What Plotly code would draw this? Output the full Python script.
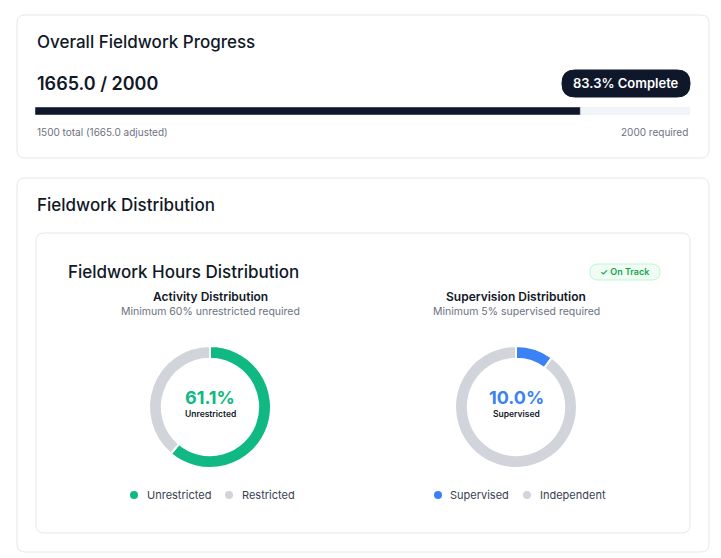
import plotly.graph_objects as go

W, H = 721, 558
completed = 1665.0
required = 2000
total_raw = 1500
activity_labels = ["Unrestricted", "Restricted"]
activity_values = [61.1, 38.9]
supervision_labels = ["Supervised", "Independent"]
supervision_values = [10.0, 90.0]

GREEN = "#10b981"; GRAY = "#d1d5db"; BLUE = "#3b82f6"; DARK = "#0f172a"
FONT = "Inter"

def px(x): return x / W
def py(y): return 1 - y / H

def rrect(x0, y0, x1, y1, r, fill, line, lw=1):
    X0, X1 = px(x0), px(x1); Y0, Y1 = py(y1), py(y0)
    rx, ry = r / W, r / H
    p = (f"M {X0+rx},{Y0} L {X1-rx},{Y0} Q {X1},{Y0} {X1},{Y0+ry} L {X1},{Y1-ry} "
         f"Q {X1},{Y1} {X1-rx},{Y1} L {X0+rx},{Y1} Q {X0},{Y1} {X0},{Y1-ry} "
         f"L {X0},{Y0+ry} Q {X0},{Y0} {X0+rx},{Y0} Z")
    return dict(type="path", path=p, xref="paper", yref="paper", fillcolor=fill,
                line=dict(color=line, width=lw), layer="below")

fig = go.Figure()
fig.add_trace(go.Bar(x=[required], y=[0], orientation="h", marker_color="#f1f5f9",
                     width=1, xaxis="x", yaxis="y", hoverinfo="skip", showlegend=False))
fig.add_trace(go.Bar(x=[completed], y=[0], orientation="h", marker_color=DARK,
                     width=1, xaxis="x", yaxis="y", hoverinfo="skip", showlegend=False))
fig.add_trace(go.Pie(values=activity_values, labels=activity_labels, hole=0.79, sort=False,
                     direction="clockwise", rotation=0, textinfo="none",
                     marker=dict(colors=[GREEN, GRAY], line=dict(color="white", width=2)),
                     domain=dict(x=[px(149), px(271)], y=[py(468), py(346)]), showlegend=False))
fig.add_trace(go.Pie(values=supervision_values, labels=supervision_labels, hole=0.79, sort=False,
                     direction="clockwise", rotation=0, textinfo="none",
                     marker=dict(colors=[BLUE, GRAY], line=dict(color="white", width=2)),
                     domain=dict(x=[px(455), px(577)], y=[py(468), py(346)]), showlegend=False))

shapes = [
    rrect(17, 15, 709, 158, 8, "white", "#e5e7eb"),
    rrect(17, 178, 709, 552, 8, "white", "#e5e7eb"),
    rrect(36, 233, 690, 533, 8, "white", "#e5e7eb"),
    rrect(562, 70, 690, 97, 13, DARK, DARK),
    rrect(590, 264, 660, 280, 8, "#f0fdf4", "#bbf7d0"),
]
for cx, col in [(134, GREEN), (229, GRAY), (438, BLUE), (527, GRAY)]:
    shapes.append(dict(type="circle", xref="paper", yref="paper", x0=px(cx-4), x1=px(cx+4),
                       y0=py(499), y1=py(491), fillcolor=col, line=dict(width=0)))

def ann(x, y, text, size, color="#111827", weight="normal", xa="left"):
    return dict(x=px(x), y=py(y), xref="paper", yref="paper", text=text, showarrow=False,
                xanchor=xa, yanchor="middle",
                font=dict(family=FONT, size=size, color=color, weight=weight))

pct = int(completed / required * 1000 + 0.5) / 10

annotations = [
    ann(35, 42, "Overall Fieldwork Progress", 17, weight=500),
    ann(35, 83, f"{completed:.1f} / {required}", 18, weight=600),
    ann(626, 83, f"{pct:.1f}% Complete", 13, "white", 600, "center"),
    ann(35, 132, f"{total_raw} total ({completed:.1f} adjusted)", 10, "#6b7280"),
    ann(690, 132, f"{required} required", 10, "#6b7280", xa="right"),
    ann(35, 205, "Fieldwork Distribution", 17, weight=500),
    ann(66, 272, "Fieldwork Hours Distribution", 17, weight=500),
    ann(625, 272, "✓ On Track", 9, "#16a34a", 600, "center"),
    ann(210, 296, "Activity Distribution", 12, weight=600, xa="center"),
    ann(210, 312, "Minimum 60% unrestricted required", 10.5, "#6b7280", xa="center"),
    ann(516, 296, "Supervision Distribution", 12, weight=600, xa="center"),
    ann(516, 312, "Minimum 5% supervised required", 10.5, "#6b7280", xa="center"),
    ann(210, 397, f"{activity_values[0]}%", 18, GREEN, 700, "center"),
    ann(210, 414, "Unrestricted", 8.5, "#111827", 600, "center"),
    ann(516, 397, f"{supervision_values[0]:.1f}%", 18, BLUE, 700, "center"),
    ann(516, 414, "Supervised", 8.5, "#111827", 600, "center"),
    ann(145, 495, "Unrestricted", 11, "#374151"),
    ann(240, 495, "Restricted", 11, "#374151"),
    ann(448, 495, "Supervised", 11, "#374151"),
    ann(538, 495, "Independent", 11, "#374151"),
]

fig.update_layout(
    width=W, height=H, margin=dict(l=0, r=0, t=0, b=0),
    paper_bgcolor="white", plot_bgcolor="rgba(0,0,0,0)", barmode="overlay",
    xaxis=dict(domain=[px(35), px(690)], range=[0, required], visible=False, fixedrange=True),
    yaxis=dict(domain=[py(115), py(107)], range=[-0.5, 0.5], visible=False, fixedrange=True),
    shapes=shapes, annotations=annotations, font=dict(family=FONT),
)
fig.write_html("out.html", config={"displayModeBar": False},
               post_script="document.body.style.margin='0';document.body.style.overflow='hidden';")
